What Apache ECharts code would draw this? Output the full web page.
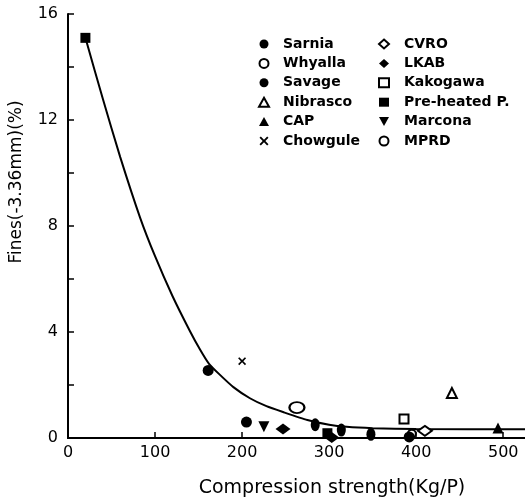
<!DOCTYPE html>
<html><head><meta charset="utf-8">
<script src="https://cdn.jsdelivr.net/npm/echarts@6/dist/echarts.min.js"></script>
<style>html,body{margin:0;padding:0;background:#fff}#c{width:525px;height:499px}</style>
</head><body><div id="c"></div>
<script>
// Data
var sarnia    = [[284,0.50],[314,0.30],[348,0.14]];
var whyalla   = [[395,0.16]];
var savage    = [[161,2.55],[205,0.60],[392,0.04]];
var nibrasco  = [[441,1.70]];
var cap       = [[494,0.38]];
var chowgule  = [[200,2.90]];
var cvro      = [[410,0.27]];
var lkab      = [[247,0.34],[303,0.02]];
var kakogawa  = [[386,0.72]];
var preheated = [[20,15.10],[298,0.18]];
var marcona   = [[225,0.42]];
var mprd      = [[263,1.15]];
var fitCurve  = [[20,15.1],[40,12.8],[60,10.6],[83,8.3],[100,6.86],[120,5.36],[140,4.04],[152,3.32],[162,2.8],[174,2.4],[190,1.92],[209,1.5],[228,1.2],[247,0.98],[275,0.68],[300,0.5],[320,0.42],[350,0.37],[400,0.34],[525,0.33]];
var yTicks = [0,4,8,12,16];

var XPATH = 'path://M0,1.5L1.5,0L5,3.5L8.5,0L10,1.5L6.5,5L10,8.5L8.5,10L5,6.5L1.5,10L0,8.5L3.5,5Z';
var DOWNTRI = 'path://M0,0L10,0L5,9Z';
var F = 'DejaVu Sans';

function sc(name, data, symbol, size){
  return {name:name, type:'scatter', data:data, symbol:symbol, symbolSize:size,
    itemStyle:{color:'#000', borderColor:'#000', opacity:1, borderWidth:(symbol.indexOf('empty')===0?1.8:0)}, z:5};
}

var chart = echarts.init(document.getElementById('c'));
var leftNames = ['Sarnia','Whyalla','Savage','Nibrasco','CAP','Chowgule'];
var rightNames = ['CVRO','LKAB','Kakogawa','Pre-heated P.','Marcona','MPRD'];
function legendFor(names, left, pad){
  return {data:names, left:left, orient:'vertical', top:37, itemWidth:10, itemHeight:9, itemGap:5.4, padding:0,
    itemStyle:{opacity:1},
    textStyle:{fontFamily:F, fontSize:14, fontWeight:'bold', color:'#000', padding:[0,0,0,pad]}};
}
chart.setOption({
  animation:false,
  backgroundColor:'#fff',
  grid:{left:68, right:0, top:14, bottom:61},
  legend:[legendFor(leftNames, 258, 9), legendFor(rightNames, 378, 10)],
  xAxis:[{type:'value', min:0, max:525, interval:100,
    axisLine:{show:true, onZero:false, lineStyle:{color:'#000', width:2}},
    axisTick:{show:true, inside:true, length:6, lineStyle:{color:'#000', width:1.5}},
    axisLabel:{showMaxLabel:false, color:'#000', fontFamily:F, fontSize:16, margin:7},
    splitLine:{show:false}},
    {type:'value', position:'top', min:0, max:525,
    axisLine:{show:true, lineStyle:{color:'#000', width:2}},
    axisTick:{show:false}, axisLabel:{show:false}, splitLine:{show:false}}],
  yAxis:{type:'value', min:0, max:16, interval:2,
    axisLine:{show:true, onZero:false, lineStyle:{color:'#000', width:2}},
    axisTick:{show:true, inside:true, length:6, lineStyle:{color:'#000', width:1.5}},
    axisLabel:{color:'#000', fontFamily:F, fontSize:16, margin:10,
      formatter:function(v){return yTicks.indexOf(v)>=0 ? String(v) : '';}},
    splitLine:{show:false}},
  graphic:[
    {type:'text', x:332, y:488, style:{text:'Compression strength(Kg/P)', fontFamily:F, fontSize:19, fill:'#000',
      align:'center', verticalAlign:'middle'}},
    {type:'text', x:17, y:182, rotation:Math.PI/2, style:{text:'Fines(-3.36mm)(%)', fontFamily:F, fontSize:17, fill:'#000',
      align:'center', verticalAlign:'middle'}}
  ],
  series:[
    {name:'fit', type:'line', data:fitCurve, smooth:0.2, showSymbol:false, symbol:'none',
      lineStyle:{color:'#000', width:2}, z:2, silent:true},
    sc('Sarnia', sarnia, 'circle', [9,13]),
    sc('Whyalla', whyalla, 'emptyCircle', 8),
    sc('Savage', savage, 'circle', 11),
    sc('Nibrasco', nibrasco, 'emptyTriangle', 10),
    sc('CAP', cap, 'triangle', 11),
    sc('Chowgule', chowgule, XPATH, 8),
    sc('CVRO', cvro, 'emptyDiamond', [14,10]),
    sc('LKAB', lkab, 'diamond', [15,11]),
    sc('Kakogawa', kakogawa, 'emptyRect', 9),
    sc('Pre-heated P.', preheated, 'rect', 10),
    sc('Marcona', marcona, DOWNTRI, 11),
    sc('MPRD', mprd, 'emptyCircle', [15,11])
  ]
});
</script></body></html>
